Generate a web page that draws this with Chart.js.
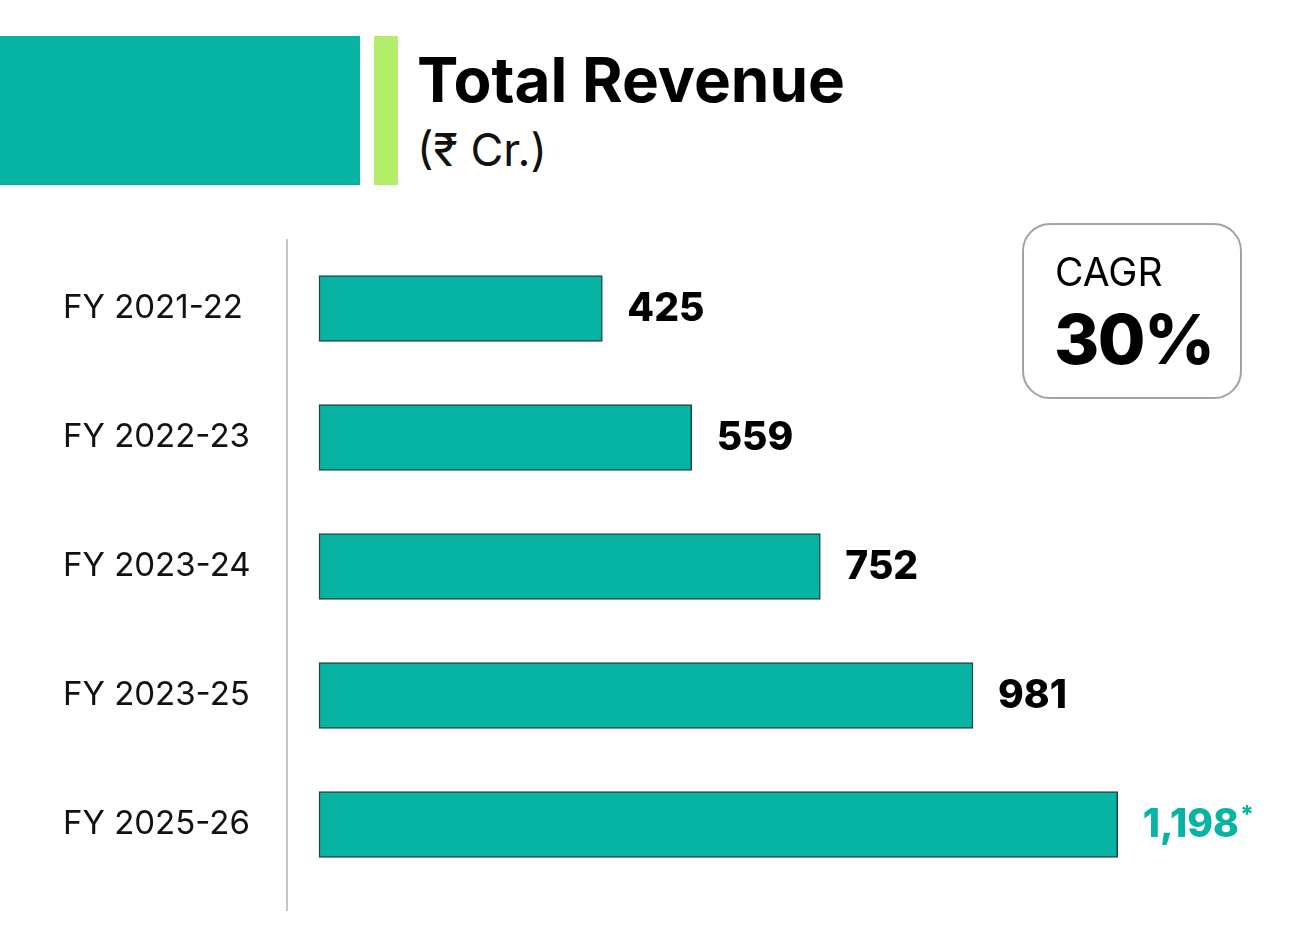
<!DOCTYPE html>
<html>
<head>
<meta charset="utf-8">
<script src="https://cdn.jsdelivr.net/npm/chart.js@4"></script>
<style>
  html,body{margin:0;padding:0;background:#fff;}
  body{width:1306px;height:942px;position:relative;overflow:hidden;font-family:Inter,"Noto Sans",sans-serif;}
  #chart{position:absolute;left:0;top:0;}
  .blk{position:absolute;top:36px;height:149px;}
  .title{position:absolute;left:417px;top:49px;font-size:62px;font-weight:700;color:#000;line-height:1;}
  .unit{position:absolute;left:417px;top:127px;font-size:45px;font-weight:400;color:#111;line-height:1;}
  .cagr{position:absolute;left:1022px;top:223px;width:216px;height:172px;border:2px solid #a3a3a3;border-radius:28px;}
  .cagr .t{position:absolute;left:31px;top:27px;font-size:39px;font-weight:400;line-height:1;}
  .cagr .v{position:absolute;left:30px;top:80px;font-size:69px;font-weight:800;line-height:1;letter-spacing:-1.5px;}
</style>
</head>
<body>
<div class="blk" style="left:0;width:360px;background:#07b3a2"></div>
<div class="blk" style="left:374px;width:24px;background:#b3ee6a"></div>
<div class="title">Total Revenue</div>
<div class="unit">(₹ Cr.)</div>
<canvas id="chart" width="1306" height="942"></canvas>
<div class="cagr"><div class="t">CAGR</div><div class="v">30%</div></div>
<script>
const years = ['FY 2021-22','FY 2022-23','FY 2023-24','FY 2023-25','FY 2025-26'];
const revenue = [425, 559, 752, 981, 1198];
const valueLabels = ['425','559','752','981','1,198*'];
const labelColors = ['#000','#000','#000','#000','#07b3a2'];

// values printed at the end of each bar, a trailing * is set as a superscript
const endLabels = {
  id:'endLabels',
  afterDatasetsDraw(chart){
    const ctx = chart.ctx;
    const meta = chart.getDatasetMeta(0);
    ctx.save();
    ctx.textAlign = 'left';
    ctx.textBaseline = 'middle';
    meta.data.forEach(function(bar,i){
      let txt = valueLabels[i];
      let star = txt.endsWith('*');
      if(star) txt = txt.slice(0,-1);
      ctx.fillStyle = labelColors[i];
      ctx.font = '800 39px Inter, "Noto Sans", sans-serif';
      ctx.fillText(txt, bar.x + 25, bar.y + 1);
      if(star){
        let w = ctx.measureText(txt).width;
        ctx.font = '800 24px Inter, "Noto Sans", sans-serif';
        ctx.fillText('*', bar.x + 26 + w, bar.y - 9);
      }
    });
    ctx.restore();
  }
};

// the grey vertical axis line, a bit longer than the plot area
const axisLine = {
  id:'axisLine',
  beforeDatasetsDraw(chart){
    const ctx = chart.ctx;
    const a = chart.chartArea;
    ctx.save();
    ctx.strokeStyle = '#c4c4c4';
    ctx.lineWidth = 2;
    ctx.beginPath();
    ctx.moveTo(a.left, a.top - 5);
    ctx.lineTo(a.left, a.bottom + 22);
    ctx.stroke();
    ctx.restore();
  }
};

new Chart(document.getElementById('chart'), {
  type:'bar',
  data:{
    labels: years,
    datasets:[{
      data: revenue,
      backgroundColor:'#07b3a2',
      borderColor:'#1d4a45',
      borderWidth:1.5,
      borderSkipped:false,
      barThickness:66,
    }],
  },
  options:{
    indexAxis:'y',
    responsive:false,
    animation:false,
    layout:{padding:{left:63, right:8, top:244, bottom:53}},
    plugins:{legend:{display:false}, tooltip:{enabled:false}},
    scales:{
      x:{
        display:false,
        min:-48,
        max:1468.5,
      },
      y:{
        grid:{display:false},
        border:{display:false},
        afterFit(scale){ scale.width = 224; },
        ticks:{
          crossAlign:'far',
          color:'#111',
          font:{family:'Inter, "Noto Sans", sans-serif', size:33, weight:'400'},
        },
      },
    },
  },
  plugins:[axisLine, endLabels],
});
</script>
</body>
</html>
